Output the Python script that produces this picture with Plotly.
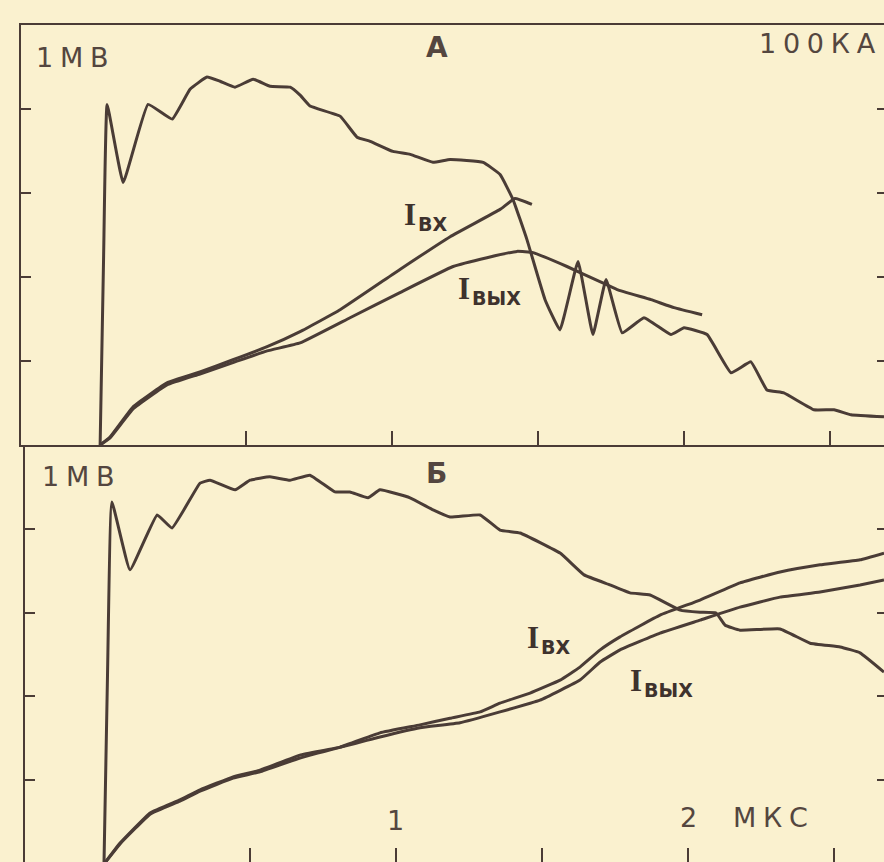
import plotly.graph_objects as go

# ---------------- data (time in microseconds, voltage in MV, current in kA) -------------
# Panel A
tA_v = [0, 0.012, 0.024, 0.079, 0.164, 0.247, 0.308, 0.366, 0.411, 0.462, 0.524, 0.582,
        0.651, 0.685, 0.719, 0.822, 0.880, 0.925, 1.003, 1.062, 1.140, 1.199, 1.312,
        1.370, 1.414, 1.462, 1.524, 1.575, 1.637, 1.688, 1.733, 1.788, 1.863, 1.955,
        2.000, 2.079, 2.161, 2.229, 2.284, 2.342, 2.445, 2.514, 2.572, 2.685]
vA = [0, 0.45, 0.811, 0.625, 0.811, 0.776, 0.847, 0.876, 0.866, 0.852, 0.871, 0.854,
      0.852, 0.833, 0.807, 0.783, 0.733, 0.723, 0.699, 0.692, 0.673, 0.680, 0.673,
      0.644, 0.585, 0.489, 0.346, 0.274, 0.437, 0.263, 0.394, 0.267, 0.303, 0.263,
      0.279, 0.263, 0.172, 0.198, 0.131, 0.124, 0.084, 0.084, 0.072, 0.067]

tA_in = [0, 0.034, 0.113, 0.229, 0.342, 0.455, 0.572, 0.685, 0.822, 1.027, 1.199,
         1.370, 1.421, 1.479]
iA_in = [0, 1.9, 9.1, 14.8, 17.4, 20.3, 23.4, 27.0, 32.2, 41.8, 49.6, 56.1, 58.7, 57.3]

tA_out = [0, 0.034, 0.113, 0.229, 0.342, 0.455, 0.572, 0.685, 0.856, 1.027, 1.209,
          1.325, 1.428, 1.483, 1.599, 1.712, 1.771, 1.887, 1.966, 2.062]
iA_out = [0, 1.7, 8.6, 14.3, 16.9, 19.6, 22.4, 24.3, 30.3, 36.3, 42.5,
          44.6, 46.1, 45.8, 42.5, 38.9, 37.0, 34.6, 32.7, 31.0]

# Panel B
tB_v = [0, 0.012, 0.027, 0.089, 0.182, 0.233, 0.329, 0.363, 0.449, 0.500, 0.568, 0.637,
        0.705, 0.791, 0.842, 0.904, 0.945, 1.048, 1.127, 1.185, 1.288, 1.356, 1.425,
        1.562, 1.644, 1.733, 1.801, 1.870, 1.973, 2.041, 2.096, 2.127, 2.178, 2.315,
        2.418, 2.521, 2.589, 2.671]
vB = [0, 0.45, 0.864, 0.702, 0.833, 0.802, 0.909, 0.916, 0.893, 0.916, 0.924, 0.916,
      0.928, 0.888, 0.888, 0.874, 0.893, 0.874, 0.845, 0.828, 0.833, 0.797, 0.790,
      0.742, 0.690, 0.666, 0.647, 0.642, 0.606, 0.601, 0.599, 0.570, 0.558, 0.561,
      0.527, 0.518, 0.504, 0.458]

tB_in = [0, 0.055, 0.158, 0.260, 0.329, 0.442, 0.534, 0.671, 0.808, 0.945, 1.082, 1.185,
         1.288, 1.356, 1.459, 1.562, 1.630, 1.699, 1.767, 1.904, 2.041, 2.178, 2.315,
         2.452, 2.589, 2.671]
iB_in = [0, 5.0, 12.2, 15.3, 17.7, 20.8, 22.4, 26.0, 27.9, 31.3, 33.2, 34.8,
         36.3, 38.4, 40.8, 43.9, 47.0, 51.1, 54.2, 59.4, 63.0, 67.1, 69.7,
         71.4, 72.6, 74.2]

tB_out = [0, 0.055, 0.158, 0.260, 0.329, 0.442, 0.534, 0.671, 0.945, 1.082, 1.219,
          1.356, 1.493, 1.630, 1.699, 1.767, 1.904, 2.041, 2.178, 2.315, 2.452,
          2.589, 2.671]
iB_out = [0, 4.8, 11.9, 15.0, 17.4, 20.5, 22.0, 25.3, 30.3, 32.5, 33.7,
          36.3, 39.1, 43.9, 48.2, 51.1, 55.1, 58.2, 61.3, 63.7, 64.9,
          66.6, 67.8]

x_ticks = [0.5, 1.0, 1.5, 2.0, 2.5]
v_ticks = [0.2, 0.4, 0.6, 0.8]
i_ticks = [20, 40, 60, 80]

# ---------------- styling ----------------
INK = "#4a3c36"
PAPER = "#faf1cf"
LW = 3

fig = go.Figure()

def line(x, y, xa, ya):
    fig.add_trace(go.Scatter(x=x, y=y, xaxis=xa, yaxis=ya, mode="lines",
                             line=dict(color=INK, width=LW, shape="spline", smoothing=0.3),
                             showlegend=False, hoverinfo="skip"))

line(tA_v, vA, "x", "y")
line(tA_in, iA_in, "x", "y3")
line(tA_out, iA_out, "x", "y3")
line(tB_v, vB, "x2", "y2")
line(tB_in, iB_in, "x2", "y4")
line(tB_out, iB_out, "x2", "y4")

H, W = 862, 884
top_dom = [1 - 445 / H, 1 - 25 / H]
bot_dom = [0, 1 - 445 / H]

common = dict(showgrid=False, zeroline=False, showticklabels=False,
              ticks="inside", tickcolor=INK, tickwidth=2, linecolor=INK, linewidth=2)

fig.update_layout(
    width=W, height=H, margin=dict(l=0, r=0, t=0, b=0),
    paper_bgcolor=PAPER, plot_bgcolor=PAPER, showlegend=False,
    xaxis=dict(domain=[21 / W, 1], range=[-0.271, 2.685], anchor="y",
               showline=True, mirror=True, tickvals=x_ticks, ticklen=14, **common),
    yaxis=dict(domain=top_dom, range=[0, 1], anchor="x",
               showline=True, tickvals=v_ticks, ticklen=10, **common),
    yaxis3=dict(overlaying="y", side="right", anchor="x", range=[0, 100],
                showline=False, tickvals=i_ticks, ticklen=7, **common),
    xaxis2=dict(domain=[25 / W, 1], range=[-0.2705, 2.671], anchor="y2",
                showline=False, tickvals=x_ticks, ticklen=14, **common),
    yaxis2=dict(domain=bot_dom, range=[0.0048, 1], anchor="x2",
                showline=True, tickvals=v_ticks, ticklen=10, **common),
    yaxis4=dict(overlaying="y2", side="right", anchor="x2", range=[0.48, 100],
                showline=False, tickvals=i_ticks, ticklen=7, **common),
)

TXT = "#54463f"
LBL = dict(family="DejaVu Sans", size=27, color=TXT)
BOLD = dict(family="DejaVu Sans", size=28, color=TXT, weight="bold")
SERIF_I = dict(family="Liberation Serif", size=31, color="#3e322d", weight="bold")
SUB = dict(family="DejaVu Sans", size=19, color="#3e322d", weight="bold")

def ann(text, x, y, xref, yref, font, xanchor="center"):
    fig.add_annotation(text=text, x=x, y=y, xref=xref, yref=yref, showarrow=False,
                       xanchor=xanchor, yanchor="middle", font=font)

sp = "\u2005"
# panel A texts
ann(sp.join("1МВ"), -0.225, 0.922, "x", "y", LBL, "left")
ann("А", 1.154, 0.947, "x", "y", BOLD)
ann(sp.join("100КА"), 2.665, 95.5, "x", "y3", LBL, "right")
# panel B texts
ann(sp.join("1МВ"), -0.219, 0.924, "x2", "y2", LBL, "left")
ann("Б", 1.140, 0.933, "x2", "y2", BOLD)
ann(sp.join("100КА"), 2.675, 94.7, "x2", "y4", LBL, "right")
ann("1", 0.998, 0.105, "x2", "y2", LBL)
ann("2", 2.003, 0.112, "x2", "y2", LBL)
ann(sp.join("МКС"), 2.281, 0.112, "x2", "y2", LBL)

def ilabel(sub, x, y, xref, yref):
    ann("I", x, y, xref, yref, SERIF_I, "left")
    ann(sub, x + 0.048, y - 0.022, xref, yref, SUB, "left")

ilabel("ВХ", 1.035, 0.548, "x", "y")
ilabel("ВЫХ", 1.220, 0.372, "x", "y")
ilabel("ВХ", 1.442, 0.540, "x2", "y2")
ilabel("ВЫХ", 1.795, 0.438, "x2", "y2")

fig.write_html("out.html", config={"displayModeBar": False},
               post_script="document.body.style.margin='0px';")
